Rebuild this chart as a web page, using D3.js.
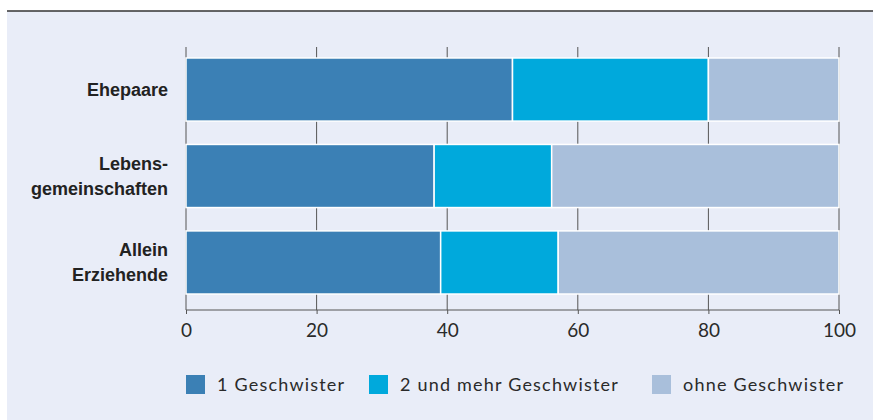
<!DOCTYPE html>
<html>
<head>
<meta charset="utf-8">
<script src="https://cdn.jsdelivr.net/npm/d3@7"></script>
<style>
  body { margin: 0; background: #fff; }
  svg { display: block; }
</style>
</head>
<body>
<svg id="chart"></svg>
<script>
(function() {

  // data
  const categories = ['Ehepaare', 'Lebensgemeinschaften', 'Allein Erziehende'];
  const categoryLines = [['Ehepaare'], ['Lebens-', 'gemeinschaften'], ['Allein', 'Erziehende']];
  const seriesNames = ['1 Geschwister', '2 und mehr Geschwister', 'ohne Geschwister'];
  const einGeschwister = [50, 38, 39];
  const mehrGeschwister = [30, 18, 18];
  const ohneGeschwister = [20, 44, 43];
  const xTicks = [0, 20, 40, 60, 80, 100];
  const colors = ['#3b80b5', '#00a9dc', '#a9bfdb'];

  const width = 873;
  const height = 420;

  const svg = d3.select('#chart')
    .attr('width', width)
    .attr('height', height);

  // panel background + top rule
  svg.append('rect')
    .attr('x', 7).attr('y', 11)
    .attr('width', width - 7).attr('height', height - 11)
    .attr('fill', '#e9edf8');
  svg.append('line')
    .attr('x1', 7).attr('x2', width)
    .attr('y1', 11).attr('y2', 11)
    .attr('stroke', '#333').attr('stroke-width', 1.5);

  const rows = categories.map(function(c, i) {
    return { cat: c, v0: einGeschwister[i], v1: mehrGeschwister[i], v2: ohneGeschwister[i] };
  });
  const stack = d3.stack().keys(['v0', 'v1', 'v2'])(rows);

  const x = d3.scaleLinear().domain([0, 100]).range([186, 839]);
  const y = d3.scaleBand().domain(categories).range([47, 305])
    .paddingInner(0.27).paddingOuter(0.127);

  const axisY = 310;

  // vertical grid lines
  svg.append('g').selectAll('line')
    .data(xTicks)
    .enter().append('line')
    .attr('x1', function(d) { return x(d); })
    .attr('x2', function(d) { return x(d); })
    .attr('y1', 47).attr('y2', axisY)
    .attr('stroke', '#555').attr('stroke-width', 1);

  // bars
  svg.append('g').selectAll('g')
    .data(stack)
    .enter().append('g')
    .attr('fill', function(d, i) { return colors[i]; })
    .selectAll('rect')
    .data(function(d) { return d; })
    .enter().append('rect')
    .attr('x', function(d) { return x(d[0]); })
    .attr('width', function(d) { return x(d[1]) - x(d[0]); })
    .attr('y', function(d) { return y(d.data.cat); })
    .attr('height', y.bandwidth())
    .attr('stroke', '#fff').attr('stroke-width', 1.5);

  // x axis
  const xAxis = svg.append('g')
    .attr('transform', 'translate(0,' + axisY + ')')
    .call(d3.axisBottom(x).tickValues(xTicks).tickSize(4).tickPadding(10));
  xAxis.select('.domain').attr('stroke', '#555').attr('d', 'M' + x(0) + ',0H' + x(100));
  xAxis.selectAll('.tick line').attr('stroke', '#555');
  xAxis.selectAll('.tick text')
    .attr('fill', '#2a2a2a')
    .style('font-family', 'Lato, "Open Sans", sans-serif')
    .style('font-size', '19px')
    .style('font-weight', '400');

  // category labels
  const lineH = 25;
  const labels = svg.append('g').selectAll('text')
    .data(categories)
    .enter().append('text')
    .attr('text-anchor', 'end')
    .attr('fill', '#222')
    .style('font-family', '"Liberation Sans", Arial, sans-serif')
    .style('font-size', '18px')
    .style('font-weight', 'bold');
  labels.each(function(c, i) {
    const lines = categoryLines[i];
    const cy = y(c) + y.bandwidth() / 2;
    const t = d3.select(this);
    lines.forEach(function(l, j) {
      t.append('tspan')
        .attr('x', 168)
        .attr('y', cy + (j - (lines.length - 1) / 2) * lineH + 6.5)
        .text(l);
    });
  });

  // legend
  const legendX = [186, 369, 652];
  const legend = svg.append('g').selectAll('g')
    .data(seriesNames)
    .enter().append('g')
    .attr('transform', function(d, i) { return 'translate(' + legendX[i] + ',375)'; });
  legend.append('rect')
    .attr('width', 19).attr('height', 19)
    .attr('fill', function(d, i) { return colors[i]; });
  legend.append('text')
    .attr('x', 31).attr('y', 16)
    .attr('fill', '#2a2a2a')
    .style('font-family', 'Lato, "Open Sans", sans-serif')
    .style('font-size', '18px')
    .style('font-weight', '400')
    .style('letter-spacing', '1.2px')
    .text(function(d) { return d; });

})();
</script>
</body>
</html>
